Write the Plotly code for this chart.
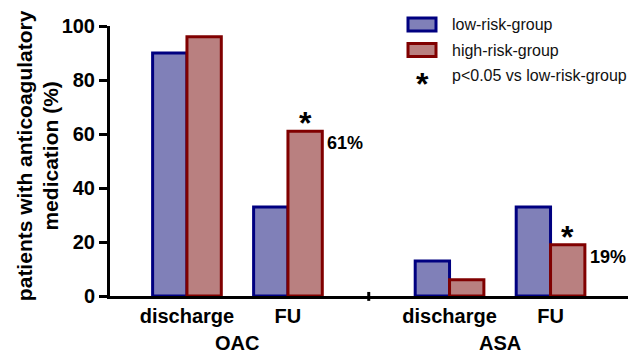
import plotly.graph_objects as go

# ---- data ----
groups = ["OAC", "ASA"]
timepoints = ["discharge", "FU"]
low_risk = [90, 33, 13, 33]     # OAC discharge, OAC FU, ASA discharge, ASA FU
high_risk = [96, 61, 6, 19]
series_names = ["low-risk-group", "high-risk-group"]
sig_note = "p<0.05 vs low-risk-group"
sig_index = [1, 3]               # bars (high-risk) marked significant
sig_labels = ["61%", "19%"]
y_ticks = [0, 20, 40, 60, 80, 100]

FONT = "Liberation Sans, Arial, sans-serif"
LOW_FILL, LOW_LINE = "#8080B8", "#000080"
HIGH_FILL, HIGH_LINE = "#B98080", "#800000"

# numeric positions: categories one unit apart, extra gap between groups
GROUP_STEP = len(timepoints) + 0.6
pos = [g * GROUP_STEP + t for g in range(len(groups)) for t in range(len(timepoints))]
labels = [timepoints[t] for g in range(len(groups)) for t in range(len(timepoints))]
group_centers = [g * GROUP_STEP + (len(timepoints) - 1) / 2 for g in range(len(groups))]
separator = (len(timepoints) - 1 + GROUP_STEP) / 2

fig = go.Figure()
fig.add_trace(go.Bar(x=pos, y=low_risk, name=series_names[0],
                     marker=dict(color=LOW_FILL, line=dict(color=LOW_LINE, width=3))))
fig.add_trace(go.Bar(x=pos, y=high_risk, name=series_names[1],
                     marker=dict(color=HIGH_FILL, line=dict(color=HIGH_LINE, width=3))))

BARGAP = 0.32
half = (1 - BARGAP) / 4  # half a single bar width -> center offset

annotations = []
for i, lab in zip(sig_index, sig_labels):
    annotations.append(dict(x=pos[i] + half, y=high_risk[i], xref="x", yref="y",
                            text="<b>*</b>", showarrow=False, yanchor="bottom",
                            yshift=-12, font=dict(family=FONT, size=32, color="black")))
    annotations.append(dict(x=pos[i] + 2 * half, y=high_risk[i], xref="x", yref="y",
                            text="<b>%s</b>" % lab, showarrow=False, xanchor="left",
                            yanchor="middle", xshift=3, yshift=-12,
                            font=dict(family=FONT, size=18, color="black")))
for gc, g in zip(group_centers, groups):
    annotations.append(dict(x=gc, y=0, xref="x", yref="paper", text="<b>%s</b>" % g,
                            showarrow=False, yanchor="middle", yshift=-47,
                            font=dict(family=FONT, size=20, color="black")))

# y axis title (two lines)
for xp, txt in [(-0.165, "patients with anticoagulatory"), (-0.114, "medication (%)")]:
    annotations.append(dict(x=xp, y=0.52, xref="paper", yref="paper",
                            text="<b>%s</b>" % txt, textangle=-90, showarrow=False,
                            xanchor="center", yanchor="middle",
                            font=dict(family=FONT, size=21, color="black")))

# legend (manual, wide swatches)
W, H = 518.0, 270.0
def px(x):
    return (x - 110) / W
def py(y):
    return (296 - y) / H

shapes = []
for k, (fill, line) in enumerate([(LOW_FILL, LOW_LINE), (HIGH_FILL, HIGH_LINE)]):
    top = 17 + k * 25.5
    shapes.append(dict(type="rect", xref="paper", yref="paper",
                       x0=px(408), x1=px(436), y0=py(top + 14), y1=py(top + 1),
                       fillcolor=fill, line=dict(color=line, width=3)))
legend_texts = series_names + [sig_note]
for k, t in enumerate(legend_texts):
    annotations.append(dict(x=px(450), y=py(24.5 + k * 25.5), xref="paper", yref="paper",
                            text=t, showarrow=False, xanchor="left", yanchor="middle",
                            font=dict(family=FONT, size=16, color="#111")))
annotations.append(dict(x=px(422), y=py(84), xref="paper", yref="paper", text="<b>*</b>",
                        showarrow=False, xanchor="center", yanchor="middle",
                        font=dict(family=FONT, size=32, color="black")))

# separator tick between groups
shapes.append(dict(type="line", xref="x", yref="paper", x0=separator, x1=separator,
                   y0=-0.018, y1=0.015, line=dict(color="black", width=3)))

fig.update_layout(
    width=628, height=355,
    margin=dict(l=110, r=0, t=26, b=59),
    paper_bgcolor="white", plot_bgcolor="white",
    barmode="group", bargap=BARGAP, bargroupgap=0,
    showlegend=False,
    annotations=annotations, shapes=shapes,
    font=dict(family=FONT, color="black"),
)
fig.update_xaxes(range=[-0.762, 4.367], tickmode="array", tickvals=pos,
                 ticktext=["<b>%s</b>" % l for l in labels], ticks="",
                 showline=True, linecolor="black", linewidth=3, showgrid=False,
                 zeroline=False, tickfont=dict(family=FONT, size=20, color="black"))
fig.update_yaxes(range=[0, 100], tickmode="array", tickvals=y_ticks,
                 ticktext=["<b>%d</b>" % v for v in y_ticks],
                 ticks="outside", ticklen=8, tickwidth=3, tickcolor="black",
                 showline=True, linecolor="black", linewidth=3, showgrid=False,
                 zeroline=False, tickfont=dict(family=FONT, size=20, color="black"))

fig.write_html("out.html")
